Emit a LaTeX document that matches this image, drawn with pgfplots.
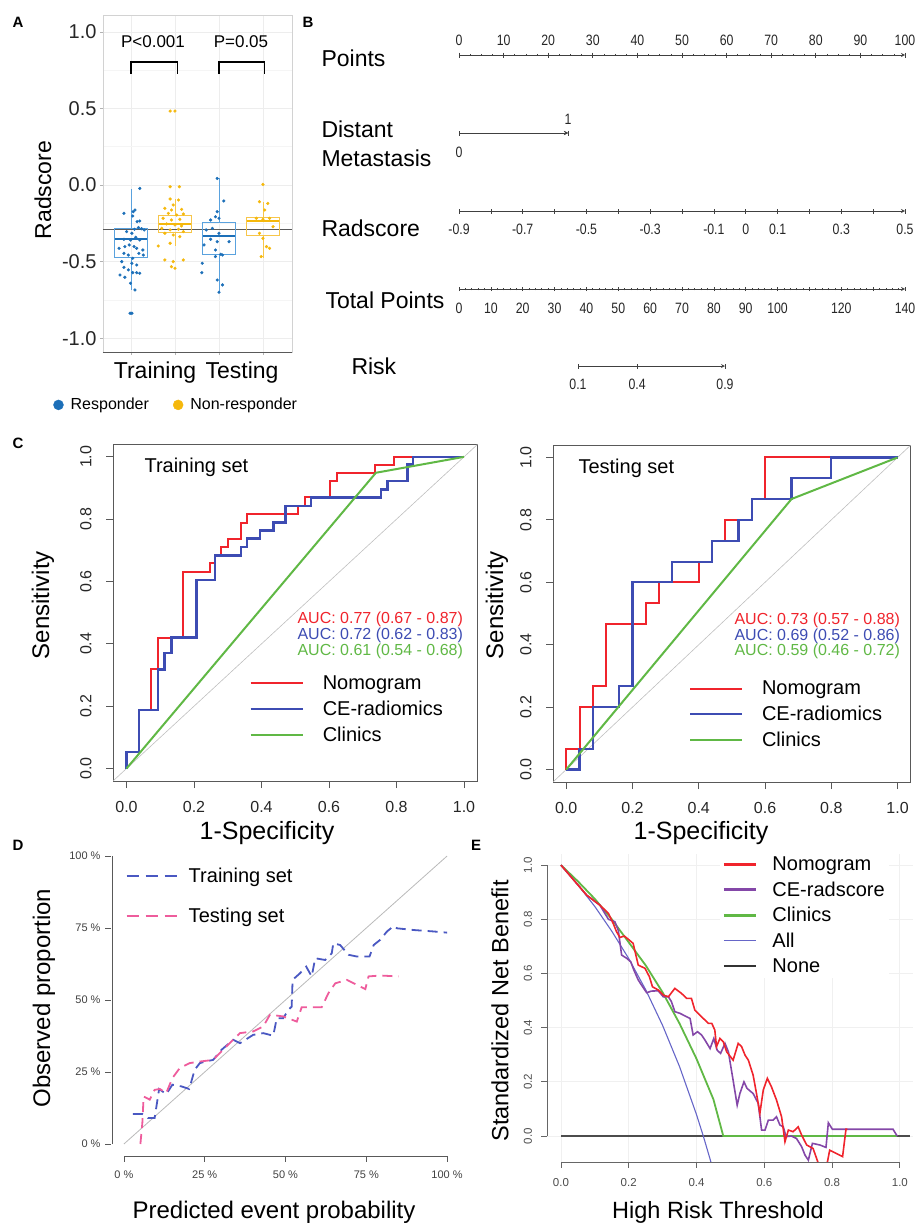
\documentclass[border=0pt]{standalone}
\usepackage{fontspec}
\setmainfont{Liberation Sans}
\newfontfamily\narrowfont[FakeStretch=0.82]{Liberation Sans}
\usepackage{pgfplots}
\pgfplotsset{compat=1.18}
\usepgfplotslibrary{statistics}

\definecolor{resp}{HTML}{1C6FB8}
\definecolor{respbox}{HTML}{5AA2DE}
\definecolor{nonr}{HTML}{F5B80C}
\definecolor{nonrbox}{HTML}{F7C64A}
\definecolor{rred}{HTML}{F0242C}
\definecolor{rblue}{HTML}{3D4CB3}
\definecolor{rgreen}{HTML}{60B845}
\definecolor{cblue}{HTML}{4A58C2}
\definecolor{cpink}{HTML}{EE5C9C}
\definecolor{dpurple}{HTML}{8447A8}
\definecolor{dall}{HTML}{6666C8}

\newcommand{\fs}[1]{\fontsize{#1}{#1}\selectfont}

\pgfplotsset{
  every axis/.append style={scale only axis, /pgf/number format/assume math mode=true},
  nomo/.style={height=10pt, axis y line=none, ymin=0, ymax=1, clip=false,
    axis line style={-, black!75, line width=0.8pt},
    tick style={black!75, line width=0.7pt},
    tick align=outside, major tick length=5pt, minor tick length=2.5pt,
    xticklabel shift=5pt,
    tick label style={font=\narrowfont\fs{15}, text=black!85}},
  roc/.style={xmin=-0.04, xmax=1.04, ymin=-0.04, ymax=1.04,
    xtick={0,0.2,0.4,0.6,0.8,1}, ytick={0,0.2,0.4,0.6,0.8,1},
    xticklabels={0.0,0.2,0.4,0.6,0.8,1.0}, yticklabels={0.0,0.2,0.4,0.6,0.8,1.0},
    xtick pos=left, ytick pos=left, tick align=outside, major tick length=7pt,
    axis line style={black!65, line width=1pt}, tick style={black!65, line width=0.8pt},
    tick label style={font=\fs{16}, text=black!85},
    yticklabel style={rotate=90, anchor=south},
    xticklabel shift=10pt, yticklabel shift=11pt,
    legend style={draw=none, fill=none, font=\fs{20}, anchor=north west,
      row sep=6pt, inner sep=0pt, /tikz/every odd column/.append style={column sep=17pt}},
    legend cell align=left,
    legend image code/.code={\draw[#1] (0pt,0pt) -- (52pt,0pt);}},
}

\begin{document}
\begin{tikzpicture}
\path[use as bounding box] (0,0) rectangle (921pt,-1226pt);

% ---------------- A: radscore boxplots
\begin{axis}[at={(103pt,-352pt)}, anchor=south west, width=189pt, height=337pt,
  xmin=0.364, xmax=4.66, ymin=-1.09, ymax=1.11,
  xtick={1,2,3,4}, xticklabels={},
  ytick={-1,-0.5,0,0.5,1}, yticklabels={-1.0,-0.5,0.0,0.5,1.0},
  minor ytick={-0.75,-0.25,0.25,0.75},
  grid=both, major grid style={gray!14, line width=0.7pt}, minor grid style={gray!8, line width=0.5pt},
  xtick pos=left, ytick pos=left, tick align=outside, major tick length=3pt, minor tick length=0pt,
  tick style={gray!60, line width=0.5pt},
  axis line style={gray!35, line width=0.8pt},
  yticklabel style={font=\fs{20}, text=black!85},
  boxplot/draw direction=y,
  legend columns=2,
  legend style={at={(rel axis cs:-0.28,-0.157)}, anchor=west, draw=none, fill=none,
    font=\fs{16}, /tikz/every even column/.append style={column sep=22pt},
    /tikz/every odd column/.append style={column sep=5pt}},
  legend image code/.code={\fill[#1] (5pt,0pt) circle (5pt);},
  clip=false]
\addlegendimage{resp}\addlegendentry{Responder}
\addlegendimage{nonr}\addlegendentry{Non-responder}

\addplot[forget plot, gray!70!black, line width=1pt] coordinates {(0.364,-0.293)(4.66,-0.293)};

\addplot[forget plot, draw=respbox, line width=0.8pt,
  boxplot prepared={lower whisker=-0.685, lower quartile=-0.474, median=-0.354,
    upper quartile=-0.283, upper whisker=-0.028, draw position=1, box extend=0.74,
    whisker extend=0, every median/.style={line width=1.8pt, draw=resp}}] coordinates {};
\addplot[forget plot, draw=nonrbox, line width=0.8pt,
  boxplot prepared={lower whisker=-0.40, lower quartile=-0.309, median=-0.254,
    upper quartile=-0.200, upper whisker=-0.093, draw position=2, box extend=0.74,
    whisker extend=0, every median/.style={line width=1.8pt, draw=nonr}}] coordinates {};
\addplot[forget plot, draw=respbox, line width=0.8pt,
  boxplot prepared={lower whisker=-0.707, lower quartile=-0.452, median=-0.333,
    upper quartile=-0.246, upper whisker=0.048, draw position=3, box extend=0.74,
    whisker extend=0, every median/.style={line width=1.8pt, draw=resp}}] coordinates {};
\addplot[forget plot, draw=nonrbox, line width=0.8pt,
  boxplot prepared={lower whisker=-0.478, lower quartile=-0.326, median=-0.233,
    upper quartile=-0.213, upper whisker=-0.109, draw position=4, box extend=0.74,
    whisker extend=0, every median/.style={line width=1.8pt, draw=nonr}}] coordinates {};

\addplot[forget plot, only marks, mark=*, mark size=1.4pt, resp] coordinates {
(1.20,-0.022)(0.84,-0.185)(1.05,-0.174)(1.09,-0.163)(1.04,-0.202)(1.14,-0.239)(1.20,-0.235)
(1.08,-0.289)(1.17,-0.278)(1.24,-0.285)(1.30,-0.293)(0.90,-0.304)(1.02,-0.315)(1.11,-0.341)
(0.84,-0.354)(1.20,-0.359)(0.99,-0.359)(0.96,-0.391)(0.86,-0.402)(1.07,-0.402)(1.13,-0.413)
(1.27,-0.424)(0.73,-0.413)(0.84,-0.446)(0.94,-0.457)(1.18,-0.446)(1.28,-0.457)(1.04,-0.478)
(0.79,-0.500)(1.02,-0.511)(1.13,-0.522)(0.84,-0.537)(0.94,-0.554)(1.04,-0.572)(1.20,-0.576)
(0.75,-0.587)(0.86,-0.602)(1.13,-0.572)(0.99,-0.641)(1.09,-0.685)(0.98,-0.837)(1.02,-0.837)
(2.96,0.043)(3.11,-0.104)(2.96,-0.174)(2.92,-0.207)(2.81,-0.228)(3.00,-0.217)(2.85,-0.283)
(2.71,-0.293)(3.00,-0.315)(2.81,-0.354)(2.96,-0.370)(3.23,-0.370)(2.66,-0.391)(2.92,-0.424)
(3.04,-0.452)(2.92,-0.467)(3.08,-0.457)(2.62,-0.511)(2.61,-0.572)(2.96,-0.620)(3.08,-0.652)
(3.00,-0.700)};
\addplot[forget plot, only marks, mark=*, mark size=1.4pt, nonr] coordinates {
(1.89,0.483)(2.00,0.483)(1.89,-0.011)(2.10,-0.011)(1.89,-0.091)(2.08,-0.098)(1.96,-0.130)
(1.77,-0.152)(1.92,-0.163)(2.15,-0.159)(1.85,-0.185)(2.04,-0.196)(2.19,-0.189)(1.73,-0.217)
(1.92,-0.228)(2.11,-0.224)(1.81,-0.254)(2.00,-0.261)(2.15,-0.267)(1.70,-0.283)(1.89,-0.293)
(2.08,-0.289)(2.19,-0.304)(1.77,-0.315)(1.96,-0.326)(2.11,-0.337)(1.62,-0.398)(1.89,-0.380)
(1.77,-0.489)(1.96,-0.500)(1.92,-0.533)(2.00,-0.543)(2.19,-0.489)
(4.00,0.004)(3.92,-0.109)(4.11,-0.120)(4.04,-0.163)(3.85,-0.217)(4.00,-0.224)(4.15,-0.217)
(4.23,-0.272)(3.92,-0.315)(4.00,-0.348)(4.15,-0.413)(3.96,-0.467)(4.08,-0.402)};

\draw[black, line width=1.3pt] (axis cs:1,0.724) -- (axis cs:1,0.804) -- (axis cs:2.05,0.804) -- (axis cs:2.05,0.724);
\draw[black, line width=1.3pt] (axis cs:3,0.724) -- (axis cs:3,0.804) -- (axis cs:4.03,0.804) -- (axis cs:4.03,0.724);
\node[font=\fs{17}] at (axis cs:1.5,0.935) {P<0.001};
\node[font=\fs{17}] at (axis cs:3.5,0.935) {P=0.05};
\draw[black!65, line width=1pt] (rel axis cs:0,0) -- (rel axis cs:1,0);
\end{axis}
\node[font=\fs{23}, rotate=90] at (43pt,-190pt) {Radscore};
\node[font=\fs{23}] at (155pt,-373pt) {Training};
\node[font=\fs{23}] at (242pt,-373pt) {Testing};

% ---------------- B: nomogram
\begin{axis}[nomo, at={(459pt,-55pt)}, anchor=north west, width=446pt,
  xmin=0, xmax=100, axis x line=top, xtick={0,10,...,100}, minor x tick num=3,
  xticklabel shift=3pt]
\addplot[draw=none] coordinates {(0,0)};
\end{axis}
\begin{axis}[nomo, at={(459pt,-133pt)}, anchor=south west, width=109pt,
  xmin=0, xmax=1, axis x line=bottom, xtick={0}, xticklabel shift=8pt]
\addplot[draw=none] coordinates {(0,0)};
\end{axis}
\begin{axis}[nomo, at={(459pt,-133pt)}, anchor=north west, width=109pt,
  xmin=0, xmax=1, axis x line=top, xtick={1}, xticklabel shift=2pt]
\addplot[draw=none] coordinates {(0,0)};
\end{axis}
\begin{axis}[nomo, at={(459pt,-211pt)}, anchor=south west, width=446pt,
  xmin=-0.9, xmax=0.5, axis x line=bottom,
  xtick={-0.9,-0.8,-0.7,-0.6,-0.5,-0.4,-0.3,-0.2,-0.1,0,0.1,0.2,0.3,0.4,0.5},
  xticklabels={-0.9,{},-0.7,{},-0.5,{},-0.3,{},-0.1,0,0.1,{},0.3,{},0.5},
  xticklabel shift=7pt]
\addplot[draw=none] coordinates {(0,0)};
\end{axis}
\begin{axis}[nomo, at={(459pt,-289pt)}, anchor=south west, width=446pt,
  xmin=0, xmax=140, axis x line=bottom, xtick={0,10,...,140},
  xticklabels={0,10,20,30,40,50,60,70,80,90,100,{},120,{},140}, minor x tick num=4,
  major tick length=4pt, minor tick length=2.5pt, xticklabel shift=8pt]
\addplot[draw=none] coordinates {(0,0)};
\end{axis}
\begin{axis}[nomo, at={(578pt,-366pt)}, anchor=south west, width=147pt,
  xmin=37.3, xmax=83.5, axis x line=bottom, xtick={37.3,55.9,83.5}, xticklabels={0.1,0.4,0.9},
  xticklabel shift=7pt]
\addplot[draw=none] coordinates {(40,0)};
\end{axis}
\node[font=\fs{23}, anchor=west] at (318pt,-58pt) {Points};
\node[font=\fs{23}, anchor=west] at (318pt,-129pt) {Distant};
\node[font=\fs{23}, anchor=west] at (318pt,-158pt) {Metastasis};
\node[font=\fs{23}, anchor=west] at (318pt,-228pt) {Radscore};
\node[font=\fs{23}, anchor=west] at (322pt,-300pt) {Total Points};
\node[font=\fs{23}, anchor=west] at (348pt,-366pt) {Risk};

% ---------------- C: ROC training
\begin{axis}[roc, at={(113pt,-781pt)}, anchor=south west, width=364.5pt, height=336.6pt,
  legend style={at={(axis cs:0.364,0.305)}}]
\addlegendimage{rred, line width=2pt}\addlegendentry{Nomogram}
\addlegendimage{rblue, line width=2.2pt}\addlegendentry{CE-radiomics}
\addlegendimage{rgreen, line width=2pt}\addlegendentry{Clinics}
\addplot[forget plot, gray!50, line width=0.6pt] coordinates {(-0.04,-0.04)(1.04,1.04)};
\addplot[forget plot, rred, line width=2pt] coordinates {
(0,0)(0,0.053)(0.037,0.053)(0.037,0.187)(0.074,0.187)(0.074,0.318)(0.094,0.318)(0.094,0.42)
(0.168,0.42)(0.168,0.631)(0.247,0.631)(0.247,0.658)(0.262,0.658)(0.262,0.684)(0.281,0.684)
(0.281,0.711)(0.301,0.711)(0.301,0.738)(0.339,0.738)(0.339,0.788)(0.357,0.788)(0.357,0.816)
(0.509,0.816)(0.509,0.843)(0.528,0.843)(0.528,0.87)(0.602,0.87)(0.602,0.922)(0.624,0.922)
(0.624,0.949)(0.736,0.949)(0.736,0.975)(0.793,0.975)(0.793,1)(1,1)};
\addplot[forget plot, rblue, line width=2.4pt] coordinates {
(0,0)(0,0.053)(0.037,0.053)(0.037,0.187)(0.094,0.187)(0.094,0.318)(0.113,0.318)(0.113,0.37)
(0.133,0.37)(0.133,0.42)(0.207,0.42)(0.207,0.604)(0.262,0.604)(0.262,0.684)(0.339,0.684)
(0.339,0.711)(0.357,0.711)(0.357,0.738)(0.395,0.738)(0.395,0.764)(0.435,0.764)(0.435,0.79)
(0.471,0.79)(0.471,0.843)(0.547,0.843)(0.547,0.87)(0.754,0.87)(0.754,0.895)(0.773,0.895)
(0.773,0.922)(0.832,0.922)(0.832,0.975)(0.849,0.975)(0.849,1)(1,1)};
\addplot[forget plot, rgreen, line width=2pt] coordinates {(0,0)(0.739,0.949)(1,1)};
\end{axis}
\node[font=\fs{20}, anchor=west] at (141pt,-467pt) {Training set};
\node[font=\fs{16}, anchor=west, text=rred] at (294pt,-619pt) {AUC: 0.77 (0.67 - 0.87)};
\node[font=\fs{16}, anchor=west, text=rblue] at (294pt,-635pt) {AUC: 0.72 (0.62 - 0.83)};
\node[font=\fs{16}, anchor=west, text=rgreen] at (294pt,-651pt) {AUC: 0.61 (0.54 - 0.68)};
\node[font=\fs{24}, rotate=90] at (43pt,-605pt) {Sensitivity};
\node[font=\fs{25}] at (267pt,-833pt) {1-Specificity};

% ---------------- C: ROC testing
\begin{axis}[roc, at={(553pt,-782pt)}, anchor=south west, width=357.8pt, height=337pt,
  legend style={at={(axis cs:0.37,0.29)}}]
\addlegendimage{rred, line width=2pt}\addlegendentry{Nomogram}
\addlegendimage{rblue, line width=2pt}\addlegendentry{CE-radiomics}
\addlegendimage{rgreen, line width=2pt}\addlegendentry{Clinics}
\addplot[forget plot, gray!50, line width=0.6pt] coordinates {(-0.04,-0.04)(1.04,1.04)};
\addplot[forget plot, rred, line width=2pt] coordinates {
(0,0)(0,0.067)(0.04,0.067)(0.04,0.2)(0.08,0.2)(0.08,0.267)(0.12,0.267)(0.12,0.467)
(0.24,0.467)(0.24,0.533)(0.28,0.533)(0.28,0.6)(0.4,0.6)(0.4,0.664)(0.44,0.664)(0.44,0.733)
(0.48,0.733)(0.48,0.8)(0.56,0.8)(0.56,0.867)(0.6,0.867)(0.6,1)(1,1)};
\addplot[forget plot, rblue, line width=2.2pt] coordinates {
(0,0)(0.04,0)(0.04,0.067)(0.08,0.067)(0.08,0.2)(0.16,0.2)(0.16,0.267)(0.2,0.267)(0.2,0.6)
(0.32,0.6)(0.32,0.664)(0.44,0.664)(0.44,0.733)(0.52,0.733)(0.52,0.8)(0.56,0.8)(0.56,0.867)
(0.68,0.867)(0.68,0.933)(0.8,0.933)(0.8,1)(1,1)};
\addplot[forget plot, rgreen, line width=2pt] coordinates {(0,0)(0.68,0.867)(1,1)};
\end{axis}
\node[font=\fs{20}, anchor=west] at (575pt,-468pt) {Testing set};
\node[font=\fs{16}, anchor=west, text=rred] at (731pt,-620pt) {AUC: 0.73 (0.57 - 0.88)};
\node[font=\fs{16}, anchor=west, text=rblue] at (731pt,-636pt) {AUC: 0.69 (0.52 - 0.86)};
\node[font=\fs{16}, anchor=west, text=rgreen] at (731pt,-651pt) {AUC: 0.59 (0.46 - 0.72)};
\node[font=\fs{24}, rotate=90] at (497pt,-605pt) {Sensitivity};
\node[font=\fs{25}] at (701pt,-833pt) {1-Specificity};

% ---------------- D: calibration
\begin{axis}[at={(111pt,-1155.5pt)}, anchor=south west, width=349pt, height=311pt,
  xmin=-0.04, xmax=1.04, ymin=-0.04, ymax=1.04,
  xtick={0,0.25,0.5,0.75,1}, ytick={0,0.25,0.5,0.75,1},
  xticklabels={0 \%,25 \%,50 \%,75 \%,100 \%}, yticklabels={0 \%,25 \%,50 \%,75 \%,100 \%},
  axis lines*=left, axis line style={draw=none},
  tick align=outside, major tick length=6pt, tick style={black!65, line width=0.8pt},
  tick label style={font=\fs{11}, text=black!75}, xticklabel shift=6pt, yticklabel shift=1pt,
  legend style={at={(axis cs:0.005,0.965)}, anchor=north west, draw=none, fill=none,
    font=\fs{20}, row sep=20pt, inner sep=0pt,
    /tikz/every odd column/.append style={column sep=9pt}},
  legend cell align=left,
  legend image code/.code={\draw[#1] (0pt,0pt) -- (50pt,0pt);}, clip=false]
\addlegendimage{cblue, line width=2pt, dash pattern=on 12pt off 7pt}\addlegendentry{Training set}
\addlegendimage{cpink, line width=2pt, dash pattern=on 12pt off 7pt}\addlegendentry{Testing set}
\addplot[forget plot, gray!55, line width=0.8pt] coordinates {(0,0)(1,1)};
\addplot[forget plot, cblue, line width=1.8pt, dash pattern=on 10pt off 6pt] coordinates {
(0.028,0.104)(0.057,0.104)(0.074,0.09)(0.095,0.09)(0.109,0.191)(0.131,0.173)(0.15,0.206)
(0.178,0.2)(0.202,0.191)(0.219,0.258)(0.235,0.281)(0.255,0.287)(0.276,0.292)(0.302,0.327)
(0.338,0.362)(0.359,0.35)(0.4,0.379)(0.431,0.385)(0.462,0.376)(0.473,0.437)(0.493,0.437)
(0.509,0.466)(0.519,0.477)(0.522,0.57)(0.545,0.593)(0.564,0.616)(0.581,0.582)(0.592,0.645)
(0.623,0.639)(0.643,0.662)(0.648,0.697)(0.669,0.691)(0.695,0.657)(0.721,0.651)(0.76,0.651)
(0.773,0.691)(0.793,0.709)(0.814,0.738)(0.835,0.757)(0.845,0.749)(0.897,0.743)(0.959,0.738)
(1.0,0.734)};
\addplot[forget plot, cpink, line width=1.8pt, dash pattern=on 10pt off 6pt] coordinates {
(0.051,0)(0.057,0.073)(0.061,0.165)(0.08,0.154)(0.095,0.188)(0.111,0.191)(0.131,0.177)
(0.15,0.229)(0.173,0.264)(0.204,0.281)(0.24,0.287)(0.276,0.292)(0.317,0.339)(0.359,0.385)
(0.4,0.391)(0.431,0.408)(0.452,0.449)(0.493,0.443)(0.535,0.425)(0.55,0.475)(0.612,0.475)
(0.633,0.524)(0.654,0.558)(0.69,0.57)(0.747,0.538)(0.757,0.582)(0.793,0.585)(0.85,0.582)};
\end{axis}
\draw[black!65, line width=0.8pt] (112pt,-1144pt) -- (112pt,-856pt);
\draw[black!65, line width=0.8pt] (124pt,-1156pt) -- (447pt,-1156pt);
\node[font=\fs{24}, rotate=90] at (44pt,-998pt) {Observed proportion};
\node[font=\fs{24}] at (274pt,-1212pt) {Predicted event probability};

% ---------------- E: decision curves
\begin{axis}[at={(547.4pt,-1161.5pt)}, anchor=south west, width=366pt, height=307.8pt,
  xmin=-0.04, xmax=1.04, ymin=-0.094, ymax=1.042,
  xtick={0,0.2,0.4,0.6,0.8,1}, ytick={0,0.2,0.4,0.6,0.8,1},
  xticklabels={0.0,0.2,0.4,0.6,0.8,1.0}, yticklabels={0.0,0.2,0.4,0.6,0.8,1.0},
  axis lines*=left, axis line style={draw=none},
  grid=major, major grid style={gray!12, line width=0.8pt},
  tick align=outside, major tick length=6pt, tick style={black!60, line width=0.8pt},
  tick label style={font=\fs{11.5}, text=black!70},
  yticklabel style={rotate=90, anchor=south},
  xticklabel shift=7pt, yticklabel shift=6pt,
  legend style={at={(axis cs:0.47,1.045)}, anchor=north west, draw=none, fill=white,
    font=\fs{20}, row sep=5.5pt, inner sep=2pt,
    /tikz/every odd column/.append style={column sep=13pt}},
  legend cell align=left,
  legend image code/.code={\draw[#1] (0pt,0pt) -- (32pt,0pt);}]
\addlegendimage{rred, line width=3pt}\addlegendentry{Nomogram}
\addlegendimage{dpurple, line width=3pt}\addlegendentry{CE-radscore}
\addlegendimage{rgreen, line width=3pt}\addlegendentry{Clinics}
\addlegendimage{dall, line width=1pt}\addlegendentry{All}
\addlegendimage{black!80, line width=2pt}\addlegendentry{None}
\addplot[forget plot, black!70, line width=1.2pt] coordinates {(0,0)(1.03,0)};
\addplot[forget plot, dall, line width=1.1pt] coordinates {
(0,1)(0.05,0.927)(0.1,0.847)(0.15,0.756)(0.2,0.655)(0.25,0.540)(0.3,0.408)(0.35,0.256)
(0.4,0.079)(0.42,0.0)(0.44,-0.085)(0.45,-0.13)};
\addplot[forget plot, rgreen, line width=1.8pt] coordinates {
(0,1.0)(0.05,0.94)(0.1,0.875)(0.15,0.80)(0.2,0.715)(0.25,0.63)(0.3,0.53)(0.35,0.415)
(0.4,0.285)(0.45,0.135)(0.479,0.0)(0.992,0.0)};
\addplot[forget plot, dpurple, line width=1.6pt] coordinates {
(0,1)(0.076,0.889)(0.115,0.852)(0.14,0.8)(0.159,0.791)(0.169,0.76)(0.179,0.668)(0.194,0.656)
(0.206,0.643)(0.215,0.613)(0.228,0.576)(0.241,0.551)(0.253,0.529)(0.267,0.535)(0.287,0.536)
(0.302,0.514)(0.317,0.514)(0.326,0.496)(0.336,0.459)(0.351,0.453)(0.371,0.44)(0.381,0.434)
(0.39,0.373)(0.403,0.385)(0.415,0.373)(0.425,0.354)(0.44,0.323)(0.451,0.36)(0.461,0.317)
(0.471,0.305)(0.484,0.342)(0.494,0.311)(0.503,0.244)(0.52,0.114)(0.528,0.157)(0.54,0.2)
(0.549,0.176)(0.567,0.157)(0.582,0.121)(0.592,0.022)(0.602,0.022)(0.612,0.059)(0.626,0.059)
(0.636,0.071)(0.646,0.041)(0.656,0.034)(0.664,-0.002)(0.68,0.0)(0.695,-0.009)(0.71,-0.039)
(0.72,-0.07)(0.73,-0.089)(0.742,-0.027)(0.764,-0.033)(0.782,-0.042)(0.789,0.049)(0.801,0.025)
(0.98,0.025)(0.992,0.0)};
\addplot[forget plot, rred, line width=1.6pt] coordinates {
(0,1)(0.076,0.889)(0.115,0.852)(0.14,0.822)(0.154,0.785)(0.164,0.754)(0.174,0.733)(0.187,0.738)
(0.199,0.726)(0.213,0.711)(0.228,0.631)(0.248,0.619)(0.261,0.588)(0.27,0.551)(0.287,0.539)
(0.302,0.52)(0.317,0.514)(0.336,0.545)(0.356,0.526)(0.371,0.508)(0.385,0.508)(0.395,0.465)
(0.42,0.434)(0.435,0.416)(0.445,0.416)(0.454,0.391)(0.459,0.33)(0.469,0.36)(0.479,0.348)
(0.489,0.311)(0.508,0.28)(0.523,0.342)(0.533,0.33)(0.543,0.299)(0.553,0.28)(0.567,0.225)
(0.577,0.157)(0.587,0.084)(0.597,0.17)(0.609,0.213)(0.621,0.182)(0.636,0.133)(0.651,0.071)
(0.661,-0.021)(0.671,0.022)(0.685,0.016)(0.7,0.034)(0.71,0.004)(0.725,-0.033)(0.744,-0.046)
(0.762,-0.11)(0.784,-0.11)(0.793,-0.052)(0.831,-0.076)(0.841,0.025)(0.845,0.025)};
\end{axis}
\draw[black!60, line width=1pt] (547pt,-1136pt) -- (547pt,-865pt);
\draw[black!60, line width=1pt] (561pt,-1162pt) -- (900pt,-1162pt);
\node[font=\fs{23.5}, rotate=90] at (500pt,-1011pt) {Standardized Net Benefit};
\node[font=\fs{23.5}] at (718pt,-1212pt) {High Risk Threshold};

% panel letters
\node[font=\fs{15}\bfseries] at (18pt,-22pt) {A};
\node[font=\fs{15}\bfseries] at (308pt,-22pt) {B};
\node[font=\fs{15}\bfseries] at (18pt,-443pt) {C};
\node[font=\fs{15}\bfseries] at (18pt,-845pt) {D};
\node[font=\fs{15}\bfseries] at (476pt,-845pt) {E};
\end{tikzpicture}
\end{document}
